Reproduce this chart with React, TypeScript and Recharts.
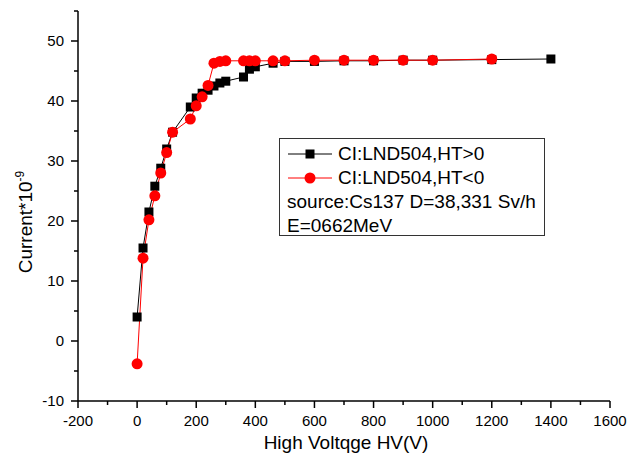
import { LineChart, Line, XAxis, YAxis } from "recharts";

// HT > 0 (black squares)
const hvPos = [0, 20, 40, 60, 80, 100, 120, 180, 200, 220, 240, 260, 280, 300, 360, 380, 400, 460, 500, 600, 700, 800, 900, 1000, 1200, 1400];
const curPos = [4.0, 15.5, 21.5, 25.8, 28.8, 32.0, 34.8, 39.0, 40.5, 41.3, 41.8, 42.5, 43.0, 43.3, 44.0, 45.3, 45.7, 46.3, 46.6, 46.6, 46.7, 46.7, 46.8, 46.8, 46.9, 47.0];

// HT < 0 (red circles)
const hvNeg = [0, 20, 40, 60, 80, 100, 120, 180, 200, 220, 240, 260, 280, 300, 360, 380, 400, 460, 500, 600, 700, 800, 900, 1000, 1200];
const curNeg = [-3.8, 13.8, 20.2, 24.2, 28.0, 31.4, 34.8, 37.0, 39.2, 40.7, 42.6, 46.3, 46.6, 46.7, 46.7, 46.7, 46.7, 46.7, 46.7, 46.8, 46.8, 46.8, 46.8, 46.8, 47.0];

const xTicks = [-200, -100, 0, 100, 200, 300, 400, 500, 600, 700, 800, 900, 1000, 1100, 1200, 1300, 1400, 1500, 1600];
const yTicks = [-10, -5, 0, 5, 10, 15, 20, 25, 30, 35, 40, 45, 50, 55];

const posData = hvPos.map((hv, i) => ({ hv, cur: curPos[i] }));
const negData = hvNeg.map((hv, i) => ({ hv, cur: curNeg[i] }));

const FONT = "'Liberation Sans', Arial, sans-serif";

function XTick({ x, y, payload }: any) {
  const major = payload.value % 200 === 0;
  return (
    <g>
      <line x1={x} x2={x} y1={y} y2={y + (major ? 7 : 4)} stroke="#000" strokeWidth={1.5} />
      {major && (
        <text x={x} y={y + 25} textAnchor="middle" fontSize={15} fontFamily={FONT} fill="#000">
          {payload.value}
        </text>
      )}
    </g>
  );
}

function YTick({ x, y, payload }: any) {
  const major = payload.value % 10 === 0 && payload.value <= 50;
  return (
    <g>
      <line x1={x} x2={x - (major ? 7 : 4)} y1={y} y2={y} stroke="#000" strokeWidth={1.5} />
      {major && (
        <text x={x - 14} y={y + 5} textAnchor="end" fontSize={15} fontFamily={FONT} fill="#000">
          {payload.value}
        </text>
      )}
    </g>
  );
}

const squareDot = (p: any) => (
  <rect key={p.index} x={p.cx - 4.5} y={p.cy - 4.5} width={9} height={9} fill="#000" />
);
const circleDot = (p: any) => (
  <circle key={p.index} cx={p.cx} cy={p.cy} r={5.5} fill="#ff0000" />
);

export default function App() {
  return (
    <div style={{ position: "absolute", left: 0, top: 0, width: 630, height: 457, background: "#fff" }}>
      <LineChart width={630} height={457} margin={{ top: 11, right: 20, bottom: 0, left: 0 }}>
        <XAxis
          dataKey="hv"
          type="number"
          domain={[-200, 1600]}
          ticks={xTicks}
          interval={0}
          height={56}
          tickSize={0}
          tickMargin={0}
          tickLine={false}
          tick={<XTick />}
          axisLine={{ stroke: "#000", strokeWidth: 1.5 }}
          allowDuplicatedCategory={false}
        />
        <YAxis
          dataKey="cur"
          type="number"
          domain={[-10, 55]}
          ticks={yTicks}
          interval={0}
          width={78}
          tickSize={0}
          tickMargin={0}
          tickLine={false}
          tick={<YTick />}
          axisLine={{ stroke: "#000", strokeWidth: 1.5 }}
        />
        <Line
          data={posData}
          dataKey="cur"
          stroke="#000"
          strokeWidth={1}
          dot={squareDot}
          activeDot={false}
          isAnimationActive={false}
        />
        <Line
          data={negData}
          dataKey="cur"
          stroke="#ff0000"
          strokeWidth={1}
          dot={circleDot}
          activeDot={false}
          isAnimationActive={false}
        />
        <text x={346} y={449} textAnchor="middle" fontSize={19} fontFamily={FONT} fill="#000">
          High Voltqge HV(V)
        </text>
        <text
          x={32}
          y={222}
          transform="rotate(-90, 32, 222)"
          textAnchor="middle"
          fontSize={19}
          fontFamily={FONT}
          fill="#000"
        >
          Current*10<tspan dy={-8} fontSize={12}>-9</tspan>
        </text>
      </LineChart>

      {/* legend box */}
      <div
        style={{
          position: "absolute",
          left: 279,
          top: 138,
          width: 266,
          height: 98,
          border: "1px solid #333",
          fontFamily: FONT,
          fontSize: 19,
          lineHeight: "24px",
          color: "#000",
          paddingTop: 3,
          boxSizing: "border-box",
        }}
      >
        <div style={{ display: "flex", alignItems: "center" }}>
          <svg width={58} height={24}>
            <line x1={8} x2={52} y1={12} y2={12} stroke="#000" />
            <rect x={25.5} y={7.5} width={9} height={9} fill="#000" />
          </svg>
          <span>CI:LND504,HT&gt;0</span>
        </div>
        <div style={{ display: "flex", alignItems: "center" }}>
          <svg width={58} height={24}>
            <line x1={8} x2={52} y1={12} y2={12} stroke="#ff0000" />
            <circle cx={30} cy={12} r={5.5} fill="#ff0000" />
          </svg>
          <span>CI:LND504,HT&lt;0</span>
        </div>
        <div style={{ paddingLeft: 7 }}>source:Cs137 D=38,331 Sv/h</div>
        <div style={{ paddingLeft: 7 }}>E=0662MeV</div>
      </div>
    </div>
  );
}
